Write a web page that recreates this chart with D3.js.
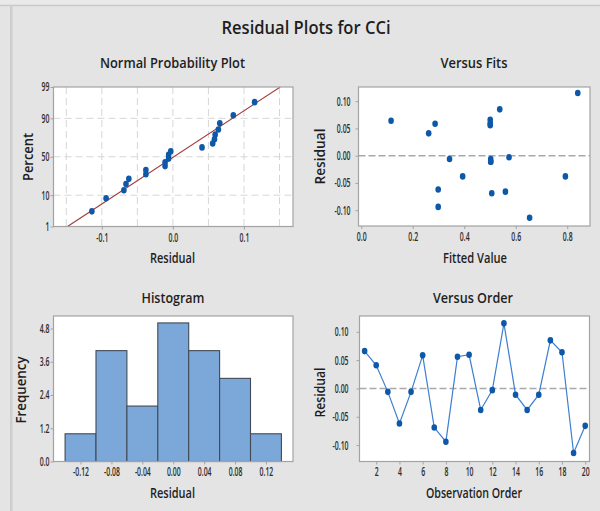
<!DOCTYPE html>
<html><head><meta charset="utf-8">
<script src="https://cdn.jsdelivr.net/npm/d3@7"></script>
<style>
html,body{margin:0;padding:0;background:#e4e4e4;}
svg{display:block;font-family:"Open Sans","Noto Sans",sans-serif;}
</style></head>
<body>
<svg id="c" width="600" height="511"></svg>
<script>
// ---------------- data ----------------
const observation = [1,2,3,4,5,6,7,8,9,10,11,12,13,14,15,16,17,18,19,20];
const residuals = [0.066,0.041,-0.006,-0.062,-0.006,0.0585,-0.069,-0.094,0.056,0.0595,
                   -0.038,-0.003,0.115,-0.011,-0.038,-0.011,0.085,0.064,-0.114,-0.066];
const fittedValues = [0.501,0.262,0.343,0.299,0.503,0.287,0.507,0.299,0.501,0.501,
                      0.394,0.574,0.841,0.503,0.793,0.503,0.538,0.116,0.654,0.560];
const histBinCenters = [-0.12,-0.08,-0.04,0.00,0.04,0.08,0.12];
const histCounts = [1,4,2,5,4,3,1];
const histBinWidth = 0.04;
const nppPercentTicks = [1,10,50,90,99];
const nppResidualTicks = [-0.1,0.0,0.1];
const residTicks = [-0.10,-0.05,0.00,0.05,0.10];
const fitTicks = [0.0,0.2,0.4,0.6,0.8];
const histXTicks = [-0.12,-0.08,-0.04,0.00,0.04,0.08,0.12];
const histYTicks = [0.0,1.2,2.4,3.6,4.8];
const orderTicks = [2,4,6,8,10,12,14,16,18,20];

// ---------------- helpers ----------------
function norminv(p){
  const a=[-3.969683028665376e+01,2.209460984245205e+02,-2.759285104469687e+02,1.383577518672690e+02,-3.066479806614716e+01,2.506628277459239e+00];
  const b=[-5.447609879822406e+01,1.615858368580409e+02,-1.556989798598866e+02,6.680131188771972e+01,-1.328068155288572e+01];
  const c=[-7.784894002430293e-03,-3.223964580411365e-01,-2.400758277161838e+00,-2.549732539343734e+00,4.374664141464968e+00,2.938163982698783e+00];
  const d=[7.784695709041462e-03,3.224671290700398e-01,2.445134137142996e+00,3.754408661907416e+00];
  const pl=0.02425;let q,r;
  if(p<pl){q=Math.sqrt(-2*Math.log(p));return (((((c[0]*q+c[1])*q+c[2])*q+c[3])*q+c[4])*q+c[5])/((((d[0]*q+d[1])*q+d[2])*q+d[3])*q+1);}
  if(p>1-pl){q=Math.sqrt(-2*Math.log(1-p));return -(((((c[0]*q+c[1])*q+c[2])*q+c[3])*q+c[4])*q+c[5])/((((d[0]*q+d[1])*q+d[2])*q+d[3])*q+1);}
  q=p-0.5;r=q*q;
  return (((((a[0]*r+a[1])*r+a[2])*r+a[3])*r+a[4])*r+a[5])*q/(((((b[0]*r+b[1])*r+b[2])*r+b[3])*r+b[4])*r+1);
}
function squeeze(sel,k){
  sel.each(function(){const w=this.getComputedTextLength();
    this.setAttribute('textLength',(w*k).toFixed(2));
    this.setAttribute('lengthAdjust','spacingAndGlyphs');});
}
function fixW(sel,w){sel.attr('textLength',w).attr('lengthAdjust','spacingAndGlyphs');}

const svg = d3.select('#c');
const BG='#e4e4e4', FRAME='#a3a3a3', TXT='#1e1e1e', TICKTXT='#2c2c2c';
const DOT='#0d58a8';

// background & window chrome
svg.append('rect').attr('width',600).attr('height',511).attr('fill',BG);
svg.append('rect').attr('width',600).attr('height',5).attr('fill','#e9e9e9');
svg.append('line').attr('x1',0).attr('x2',600).attr('y1',5.5).attr('y2',5.5).attr('stroke','#c9c9c9').attr('stroke-width',1.5);
svg.append('rect').attr('x',10).attr('y',5).attr('width',2.5).attr('height',506).attr('fill','#cdcdcd');

// main title
fixW(svg.append('text').attr('x',306).attr('y',33.5).attr('text-anchor','middle')
  .attr('font-size',18).attr('font-weight',600).attr('fill',TXT).text('Residual Plots for CCi'),169);

function frame(g,x0,x1,y0,y1){
  g.append('rect').attr('x',x0).attr('y',y0).attr('width',x1-x0).attr('height',y1-y0).attr('fill','#fff');
}
function frameStroke(g,x0,x1,y0,y1){
  g.append('rect').attr('x',x0).attr('y',y0).attr('width',x1-x0).attr('height',y1-y0)
   .attr('fill','none').attr('stroke',FRAME).attr('stroke-width',1.2);
}
function styleAxis(ax){
  ax.select('.domain').remove();
  ax.selectAll('line').attr('stroke',FRAME);
  ax.selectAll('text').attr('fill',TICKTXT).attr('font-size',12.3).attr('font-weight',600)
    .attr('font-family','"Open Sans",sans-serif');
  squeeze(ax.selectAll('text'),0.56);
}
function subtitle(x,y,t,w){
  fixW(svg.append('text').attr('x',x).attr('y',y).attr('text-anchor','middle')
   .attr('font-size',14.5).attr('font-weight',600).attr('fill',TXT).text(t),w);
}
function xTitle(x,y,t,w){
  fixW(svg.append('text').attr('x',x).attr('y',y).attr('text-anchor','middle')
   .attr('font-size',13.5).attr('font-weight',600).attr('fill',TXT).text(t),w);
}
function yTitle(x,y,t,w){
  fixW(svg.append('text').attr('transform',`translate(${x},${y}) rotate(-90)`).attr('text-anchor','middle')
   .attr('font-size',13.5).attr('font-weight',600).attr('fill',TXT).text(t),w);
}

// ================= Normal Probability Plot =================
{
  const L=53.5,R=293,T=87,B=226.5;
  const x=d3.scaleLinear().domain([-0.168,0.169]).range([L,R]);
  const y=d3.scaleLinear().domain([norminv(0.01),norminv(0.99)]).range([B,T]);
  const g=svg.append('g');
  frame(g,L,R,T,B);
  const cid='clipN';
  svg.append('clipPath').attr('id',cid).append('rect').attr('x',L).attr('y',T).attr('width',R-L).attr('height',B-T);
  const gridX=[-0.15,-0.10,-0.05,0,0.05,0.10,0.15];
  g.selectAll('.gx').data(gridX).join('line').attr('x1',d=>x(d)).attr('x2',d=>x(d)).attr('y1',T).attr('y2',B)
    .attr('stroke','#d6d6d6').attr('stroke-dasharray','7,4');
  g.selectAll('.gy').data([10,50,90]).join('line').attr('y1',d=>y(norminv(d/100))).attr('y2',d=>y(norminv(d/100)))
    .attr('x1',L).attr('x2',R).attr('stroke','#d6d6d6').attr('stroke-dasharray','7,4');
  const n=residuals.length, mean=d3.mean(residuals), sd=d3.deviation(residuals);
  const zs=[norminv(0.01),norminv(0.99)];
  g.append('line').attr('clip-path',`url(#${cid})`)
    .attr('x1',x(mean+sd*zs[0])).attr('y1',y(zs[0])).attr('x2',x(mean+sd*zs[1])).attr('y2',y(zs[1]))
    .attr('stroke','#a33a3a').attr('stroke-width',1.1);
  const sorted=residuals.slice().sort(d3.ascending);
  g.selectAll('.pt').data(sorted).join('ellipse')
    .attr('cx',d=>x(d)).attr('cy',(d,i)=>y(norminv((i+1-0.3)/(n+0.4))))
    .attr('rx',2.8).attr('ry',3.3).attr('fill',DOT);
  frameStroke(g,L,R,T,B);
  const ax=svg.append('g').attr('transform',`translate(0,${B})`)
    .call(d3.axisBottom(x).tickValues(nppResidualTicks).tickSize(3).tickPadding(4).tickFormat(d=>d.toFixed(1)));
  styleAxis(ax);
  const ay=svg.append('g').attr('transform',`translate(${L},0)`)
    .call(d3.axisLeft(d3.scaleLinear().domain(y.domain()).range(y.range())).tickValues(nppPercentTicks.map(p=>norminv(p/100)))
      .tickSize(3).tickPadding(1).tickFormat((d,i)=>String(nppPercentTicks[i])));
  styleAxis(ay);
  subtitle(172.5,67.5,'Normal Probability Plot',145);
  xTitle(172.5,262.5,'Residual',45);
  yTitle(32.5,157,'Percent',48);
}

// ================= Versus Fits =================
{
  const L=358.5,R=590,T=87,B=226;
  const x=d3.scaleLinear().domain([-0.0105,0.8885]).range([L,R]);
  const y=d3.scaleLinear().domain([-0.129,0.126]).range([B,T]);
  const g=svg.append('g');
  frame(g,L,R,T,B);
  g.append('line').attr('x1',L).attr('x2',R).attr('y1',y(0)).attr('y2',y(0))
    .attr('stroke','#a9a9a9').attr('stroke-width',1.4).attr('stroke-dasharray','7,3');
  g.selectAll('.pt').data(residuals).join('ellipse')
    .attr('cx',(d,i)=>x(fittedValues[i])).attr('cy',d=>y(d)).attr('rx',2.8).attr('ry',3.3).attr('fill',DOT);
  frameStroke(g,L,R,T,B);
  const ax=svg.append('g').attr('transform',`translate(0,${B})`)
    .call(d3.axisBottom(x).tickValues(fitTicks).tickSize(3).tickPadding(3.5).tickFormat(d=>d.toFixed(1)));
  styleAxis(ax);
  const ay=svg.append('g').attr('transform',`translate(${L},0)`)
    .call(d3.axisLeft(y).tickValues(residTicks).tickSize(3).tickPadding(5).tickFormat(d=>d.toFixed(2)));
  styleAxis(ay);
  subtitle(474,67.5,'Versus Fits',67);
  xTitle(475,263,'Fitted Value',64);
  yTitle(325,156.5,'Residual',56);
}

// ================= Histogram =================
{
  const L=53.5,R=293,T=316,B=461.5;
  const x=d3.scaleLinear().domain([-0.155,0.155]).range([L,R]);
  const y=d3.scaleLinear().domain([0,5.25]).range([B,T]);
  const g=svg.append('g');
  frame(g,L,R,T,B);
  g.selectAll('.bar').data(histCounts).join('rect')
    .attr('x',(d,i)=>x(histBinCenters[i]-histBinWidth/2)).attr('width',(d,i)=>x(histBinCenters[i]+histBinWidth/2)-x(histBinCenters[i]-histBinWidth/2))
    .attr('y',d=>y(d)).attr('height',d=>B-y(d))
    .attr('fill','#7ca7d9').attr('stroke','#414a55').attr('stroke-width',1.1);
  frameStroke(g,L,R,T,B);
  const ax=svg.append('g').attr('transform',`translate(0,${B})`)
    .call(d3.axisBottom(x).tickValues(histXTicks).tickSize(3).tickPadding(2.3).tickFormat(d=>d.toFixed(2)));
  styleAxis(ax);
  const ay=svg.append('g').attr('transform',`translate(${L},0)`)
    .call(d3.axisLeft(y).tickValues(histYTicks).tickSize(3).tickPadding(1).tickFormat(d=>d.toFixed(1)));
  styleAxis(ay);
  subtitle(173,302.5,'Histogram',63);
  xTitle(172.5,498.3,'Residual',45);
  yTitle(25.5,390,'Frequency',67);
}

// ================= Versus Order =================
{
  const L=359.5,R=589.5,T=316,B=461.5;
  const x=d3.scaleLinear().domain([0.56,20.37]).range([L,R]);
  const y=d3.scaleLinear().domain([-0.129,0.128]).range([B,T]);
  const g=svg.append('g');
  frame(g,L,R,T,B);
  g.append('line').attr('x1',L).attr('x2',R).attr('y1',y(0)).attr('y2',y(0))
    .attr('stroke','#a9a9a9').attr('stroke-width',1.4).attr('stroke-dasharray','7,3');
  const line=d3.line().x((d,i)=>x(observation[i])).y(d=>y(d));
  g.append('path').datum(residuals).attr('d',line).attr('fill','none').attr('stroke','#3d7fd0').attr('stroke-width',1.2);
  g.selectAll('.pt').data(residuals).join('ellipse')
    .attr('cx',(d,i)=>x(observation[i])).attr('cy',d=>y(d)).attr('rx',2.8).attr('ry',3.3).attr('fill',DOT);
  frameStroke(g,L,R,T,B);
  const ax=svg.append('g').attr('transform',`translate(0,${B})`)
    .call(d3.axisBottom(x).tickValues(orderTicks).tickSize(3).tickPadding(2.3).tickFormat(d=>String(d)));
  styleAxis(ax);
  const ay=svg.append('g').attr('transform',`translate(${L},0)`)
    .call(d3.axisLeft(y).tickValues(residTicks).tickSize(3).tickPadding(8).tickFormat(d=>d.toFixed(2)));
  styleAxis(ay);
  subtitle(473,302.5,'Versus Order',80);
  xTitle(474,498,'Observation Order',96);
  yTitle(325,392.5,'Residual',50);
}
</script>
</body></html>
